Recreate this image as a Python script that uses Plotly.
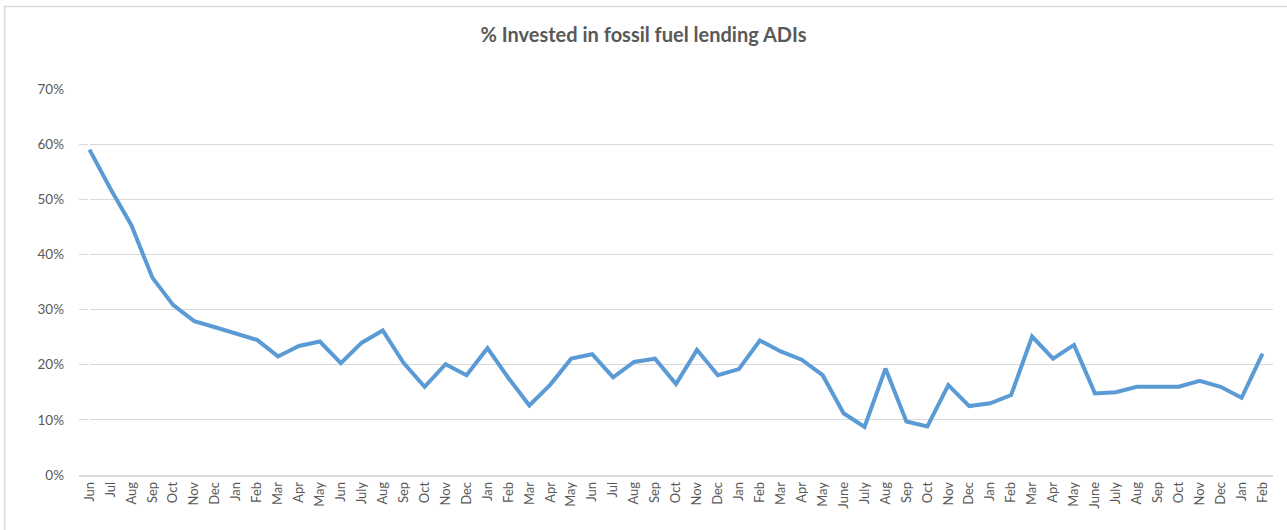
import plotly.graph_objects as go

months = [
    "Jun", "Jul", "Aug", "Sep", "Oct", "Nov", "Dec", "Jan", "Feb", "Mar", "Apr", "May",
    "Jun", "July", "Aug", "Sep", "Oct", "Nov", "Dec", "Jan", "Feb", "Mar", "Apr", "May",
    "Jun", "Jul", "Aug", "Sep", "Oct", "Nov", "Dec", "Jan", "Feb", "Mar", "Apr", "May",
    "June", "July", "Aug", "Sep", "Oct", "Nov", "Dec", "Jan", "Feb", "Mar", "Apr", "May",
    "June", "July", "Aug", "Sep", "Oct", "Nov", "Dec", "Jan", "Feb",
]

pct_invested = [
    59.0, 51.9, 45.3, 35.8, 30.8, 27.9, 26.8, 25.6, 24.5, 21.5, 23.4, 24.2,
    20.3, 24.0, 26.2, 20.3, 16.0, 20.1, 18.1, 23.0, 17.6, 12.6, 16.4, 21.1,
    21.9, 17.7, 20.5, 21.1, 16.5, 22.7, 18.1, 19.2, 24.4, 22.4, 20.9, 18.1,
    11.2, 8.7, 19.3, 9.7, 8.8, 16.3, 12.5, 13.0, 14.5, 25.1, 21.1, 23.6,
    14.8, 15.0, 16.0, 16.0, 16.0, 17.1, 16.0, 14.0, 22.0,
]

positions = list(range(len(months)))
grey = "#595959"

fig = go.Figure()

fig.add_trace(go.Scatter(
    x=positions,
    y=pct_invested,
    mode="lines",
    line=dict(color="#5B9BD5", width=4),
    name="% invested",
))

# light frame around the chart area, like the Excel chart border
fig.add_shape(
    type="rect", xref="paper", yref="paper",
    x0=-0.0623, x1=1.02, y0=-0.2, y1=1.2137,
    line=dict(color="#D9D9D9", width=1.5),
    layer="below",
)

fig.update_layout(
    width=1287,
    height=530,
    margin=dict(l=79, r=14, t=89, b=55),
    paper_bgcolor="white",
    plot_bgcolor="white",
    showlegend=False,
    font=dict(family="Lato, Open Sans, sans-serif", color=grey),
    title=dict(
        text="<b>% Invested in fossil fuel lending ADIs</b>",
        x=0.5, xref="container", xanchor="center",
        y=1 - 35 / 530, yref="container", yanchor="middle",
        font=dict(size=20, color=grey),
    ),
    xaxis=dict(
        range=[-0.5, len(months) - 0.5],
        tickmode="array",
        tickvals=positions,
        ticktext=months,
        tickangle=-90,
        tickfont=dict(size=13, color=grey),
        showgrid=False,
        showline=True,
        linecolor="#D9D9D9",
        linewidth=1.5,
        ticks="",
        fixedrange=True,
    ),
    yaxis=dict(
        range=[0, 70],
        dtick=10,
        ticksuffix="%",
        tickfont=dict(size=13.5, color=grey),
        showgrid=True,
        gridcolor="#D9D9D9",
        gridwidth=1.3,
        zeroline=False,
        ticks="",
        ticklabelstandoff=14,
        fixedrange=True,
    ),
)

# page body has a default 8px margin; drop it so the figure fills the window
fig.write_html(
    "out.html",
    config={"displayModeBar": False},
    post_script="document.body.style.margin='0px';",
)
